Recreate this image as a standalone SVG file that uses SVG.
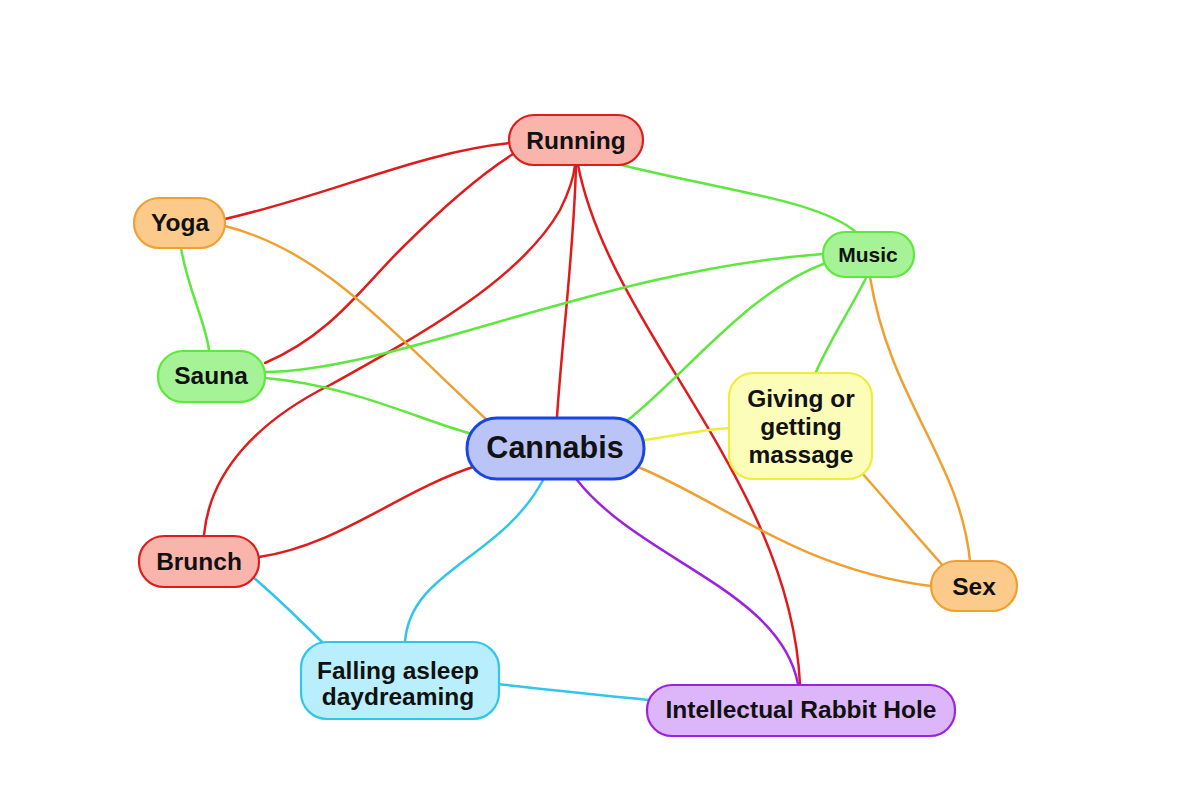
<svg xmlns="http://www.w3.org/2000/svg" width="1200" height="803" viewBox="0 0 1200 803">
<style>
.e{fill:none;stroke-width:2.5;stroke-linecap:round}
.r{stroke:#e01b1b}.o{stroke:#f0a030}.g{stroke:#5ce83c}.y{stroke:#eded3a}.c{stroke:#2fc6ec}.p{stroke:#9b22e0}
.n{stroke-width:2.2}
text{font-family:"Liberation Sans",Arial,sans-serif;font-weight:bold;fill:#111;text-anchor:middle}
.t{font-size:24.5px}
</style>
<rect width="1200" height="803" fill="#fff"/>
<g id="connectors">
<path class="e r" d="M225,219 C330,195 420,152 511,143"/>
<path class="e r" d="M265,363 C330,335 360,290 400,250 C440,210 480,175 513,154"/>
<path class="e r" d="M204,535 C210,470 260,420 330,385 C420,335 520,280 560,210 C570,190 574,175 575,165"/>
<path class="e r" d="M576,165 C574,250 562,340 557,417"/>
<path class="e r" d="M578,165 C610,330 790,480 800,684"/>
<path class="e r" d="M259,557 C340,545 400,490 476,466"/>
<path class="e o" d="M225,226 C320,250 380,320 487,420"/>
<path class="e o" d="M870,277 C890,400 960,460 970,561"/>
<path class="e o" d="M862,473 C890,505 920,540 945,568"/>
<path class="e o" d="M638,467 C720,500 800,570 931,586"/>
<path class="e g" d="M622,165 C720,190 820,200 857,233"/>
<path class="e g" d="M181,248 C188,290 205,320 209,350"/>
<path class="e g" d="M265,372 C400,370 600,270 823,254"/>
<path class="e g" d="M265,378 C350,385 420,420 469,433"/>
<path class="e g" d="M826,263 C750,290 690,370 628,420"/>
<path class="e g" d="M866,278 C850,310 830,340 816,372"/>
<path class="e y" d="M644,440 C680,435 700,430 729,428"/>
<path class="e c" d="M254,578 C280,600 300,620 322,642"/>
<path class="e c" d="M543,480 C500,560 410,570 405,642"/>
<path class="e c" d="M498,684 C550,690 600,695 649,700"/>
<path class="e p" d="M577,480 C640,560 780,590 798,684"/>
</g>
<g id="running"><rect class="n" x="509" y="115" width="134" height="50" rx="25" fill="#f9b4ac" stroke="#e01b1b"/><text class="t" x="576" y="149">Running</text></g>
<g id="yoga"><rect class="n" x="134" y="198" width="91" height="50" rx="25" fill="#fccb8c" stroke="#f0a030"/><text class="t" x="180" y="231">Yoga</text></g>
<g id="music"><rect class="n" x="823" y="232" width="91" height="45" rx="22" fill="#a6f296" stroke="#5ce83c"/><text x="868" y="262" font-size="21px">Music</text></g>
<g id="sauna"><rect class="n" x="158" y="351" width="107" height="51" rx="25" fill="#a6f296" stroke="#5ce83c"/><text class="t" x="211" y="384">Sauna</text></g>
<g id="cannabis"><rect x="467" y="418" width="177" height="61" rx="30" fill="#bac4f7" stroke="#1a46e0" stroke-width="3"/><text x="555" y="458" font-size="30.5px">Cannabis</text></g>
<g id="massage"><rect class="n" x="729" y="373" width="143" height="106" rx="24" fill="#fdfdba" stroke="#eded3a"/><text class="t" x="801" y="407">Giving or</text><text class="t" x="801" y="435">getting</text><text class="t" x="801" y="463">massage</text></g>
<g id="brunch"><rect class="n" x="139" y="536" width="120" height="51" rx="25" fill="#f9b4ac" stroke="#e01b1b"/><text class="t" x="199" y="570">Brunch</text></g>
<g id="sex"><rect class="n" x="931" y="561" width="86" height="50" rx="25" fill="#fccb8c" stroke="#f0a030"/><text class="t" x="974" y="595">Sex</text></g>
<g id="falling"><rect class="n" x="301" y="642" width="198" height="77" rx="26" fill="#b9effc" stroke="#2fc6ec"/><text class="t" x="398" y="679">Falling asleep</text><text class="t" x="398" y="705">daydreaming</text></g>
<g id="rabbit"><rect class="n" x="647" y="685" width="308" height="51" rx="25" fill="#ddb6f9" stroke="#9b22e0"/><text class="t" x="801" y="718">Intellectual Rabbit Hole</text></g>
</svg>
